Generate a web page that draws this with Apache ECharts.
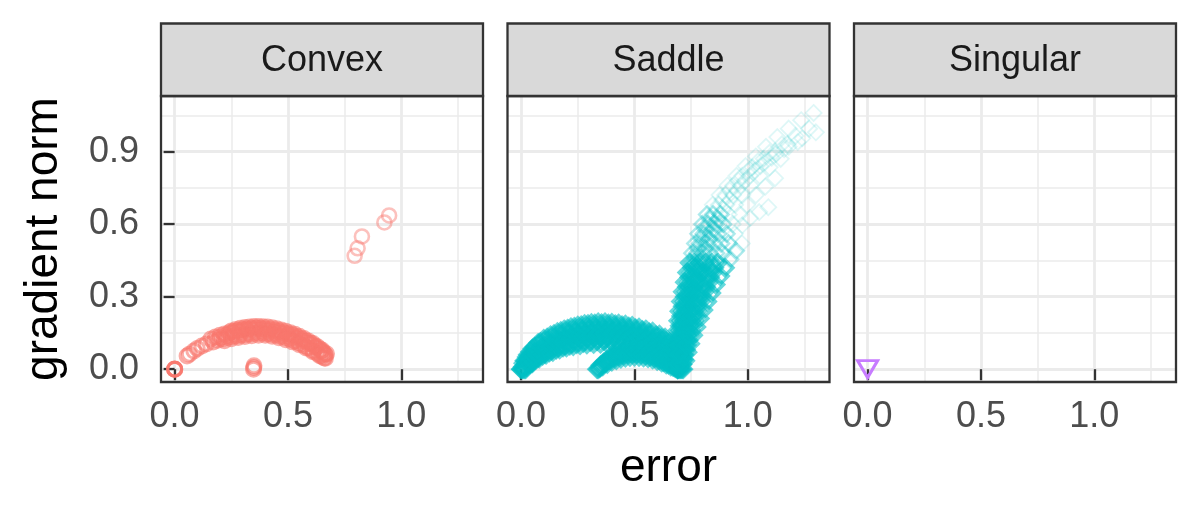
<!DOCTYPE html>
<html>
<head>
<meta charset="utf-8">
<script src="https://cdn.jsdelivr.net/npm/echarts@6/dist/echarts.min.js"></script>
<style>
html,body{margin:0;padding:0;background:#fff;}
#chart{width:1200px;height:510px;}
</style>
</head>
<body>
<div id="chart"></div>
<script>
// ---------- data ----------
const panels = ['Convex', 'Saddle', 'Singular'];
const xTicks = [0, 0.5, 1.0];
const xTickLabels = ['0.0', '0.5', '1.0'];
const xMinorTicks = [0.25, 0.75, 1.25];
const yTicks = [0, 0.3, 0.6, 0.9];
const yTickLabels = ['0.0', '0.3', '0.6', '0.9'];
const yMinorTicks = [0.15, 0.45, 0.75, 1.05];
const xTitle = 'error';
const yTitle = 'gradient norm';

// Convex panel (error, gradient norm)
const convexStart = [[0,0],[0,0],[0,0.001],[0.001,0],[0.055,0.055],[0.065,0.062],[0.085,0.075],[0.1,0.086],[0.12,0.096],[0.14,0.104]];
const convexBand = [
  [0.16,0.125],[0.18,0.133],[0.2,0.14],[0.22,0.146],[0.24,0.151],[0.26,0.156],[0.28,0.16],[0.3,0.163],[0.32,0.166],[0.34,0.168],[0.36,0.169],[0.38,0.168],[0.4,0.166],[0.42,0.163],[0.44,0.16],[0.46,0.156],[0.48,0.151],[0.5,0.146],[0.52,0.14],[0.54,0.133],[0.56,0.125],[0.58,0.116],[0.6,0.107],[0.62,0.096],[0.64,0.083],[0.655,0.071],[0.665,0.06],
  [0.17,0.112],[0.19,0.12],[0.21,0.126],[0.23,0.131],[0.25,0.135],[0.27,0.138],[0.29,0.141],[0.31,0.144],[0.33,0.147],[0.35,0.149],[0.37,0.15],[0.39,0.15],[0.41,0.148],[0.43,0.145],[0.45,0.141],[0.47,0.136],[0.49,0.131],[0.51,0.125],[0.53,0.117],[0.55,0.108],[0.57,0.098],[0.59,0.088],[0.61,0.077],[0.63,0.065],[0.65,0.053],[0.665,0.045],
  [0.2,0.13],[0.23,0.14],[0.26,0.148],[0.29,0.155],[0.32,0.16],[0.35,0.162],[0.38,0.161],[0.41,0.158],[0.44,0.153],[0.47,0.146],[0.5,0.138],[0.53,0.129],[0.56,0.118],[0.59,0.105],[0.62,0.09],[0.645,0.075],[0.66,0.063],
  [0.25,0.158],[0.27,0.164],[0.29,0.169],[0.31,0.172],[0.33,0.175],[0.35,0.177],[0.37,0.177],[0.39,0.176],[0.41,0.174],[0.43,0.171],[0.45,0.167],[0.47,0.162],[0.49,0.157],[0.51,0.151],[0.53,0.144],[0.55,0.136],[0.57,0.127],[0.59,0.117],[0.61,0.106],[0.63,0.093],[0.65,0.079],[0.67,0.064],
  [0.22,0.118],[0.25,0.126],[0.28,0.131],[0.31,0.135],[0.34,0.138],[0.37,0.14],[0.4,0.14],[0.43,0.136],[0.46,0.13],[0.49,0.122],[0.52,0.113],[0.55,0.101],[0.58,0.088],[0.61,0.072],[0.64,0.056],[0.66,0.046]
];
const convexLow = [[0.348,0],[0.349,0.007],[0.35,0.014]];
const convexOutliers = [[0.794,0.469],[0.807,0.5],[0.826,0.549],[0.925,0.607],[0.946,0.636]];

// Saddle panel
const saddleArch = [
  [0,0],[0.015,0.035],[0.03,0.06],[0.05,0.085],[0.075,0.108],[0.1,0.125],[0.13,0.14],[0.16,0.153],[0.19,0.164],[0.22,0.173],[0.25,0.18],[0.28,0.186],[0.31,0.19],[0.34,0.193],[0.37,0.193],[0.4,0.191],[0.43,0.188],[0.46,0.184],[0.49,0.179],[0.52,0.172],[0.55,0.164],[0.58,0.155],[0.61,0.143],[0.635,0.13],[0.655,0.112],[0.67,0.09],[0.68,0.065],[0.688,0.035],[0.692,0.01],
  [0,0],[0.02,0.035],[0.04,0.058],[0.065,0.08],[0.09,0.1],[0.12,0.117],[0.15,0.131],[0.18,0.143],[0.21,0.152],[0.24,0.159],[0.27,0.165],[0.3,0.17],[0.33,0.173],[0.36,0.174],[0.39,0.173],[0.42,0.171],[0.45,0.167],[0.48,0.162],[0.51,0.156],[0.54,0.148],[0.57,0.139],[0.6,0.128],[0.625,0.115],[0.645,0.1],[0.662,0.08],[0.675,0.058],[0.685,0.032],[0.69,0.008],
  [0.005,0],[0.025,0.03],[0.045,0.05],[0.07,0.07],[0.1,0.088],[0.13,0.103],[0.16,0.116],[0.19,0.127],[0.22,0.136],[0.25,0.143],[0.28,0.148],[0.31,0.152],[0.34,0.155],[0.37,0.156],[0.4,0.155],[0.43,0.153],[0.46,0.149],[0.49,0.144],[0.52,0.138],[0.55,0.13],[0.58,0.12],[0.61,0.108],[0.635,0.094],[0.655,0.077],[0.67,0.058],[0.682,0.035],[0.69,0.012],
  [0.01,0],[0.03,0.025],[0.055,0.045],[0.08,0.062],[0.11,0.078],[0.14,0.091],[0.17,0.102],[0.2,0.111],[0.23,0.119],[0.26,0.125],[0.29,0.13],[0.32,0.134],[0.35,0.136],[0.38,0.137],[0.41,0.136],[0.44,0.133],[0.47,0.129],[0.5,0.123],[0.53,0.116],[0.56,0.107],[0.59,0.096],[0.62,0.083],[0.645,0.068],[0.665,0.05],[0.68,0.03],[0.69,0.008],
  [0.015,0],[0.04,0.022],[0.065,0.04],[0.095,0.056],[0.125,0.07],[0.155,0.081],[0.185,0.09],[0.215,0.098],[0.245,0.104],[0.275,0.109],[0.305,0.113],[0.335,0.116],[0.365,0.117],[0.395,0.116],[0.425,0.114],[0.455,0.11],[0.485,0.105],[0.515,0.098],[0.545,0.09],[0.575,0.08],[0.605,0.068],[0.635,0.054],[0.66,0.038],[0.68,0.02],[0.692,0.004],
  [0.02,0],[0.05,0.025],[0.08,0.045],[0.11,0.06],[0.14,0.072],[0.17,0.082],[0.2,0.09],[0.23,0.096],[0.26,0.1],[0.29,0.103],[0.32,0.105],[0.35,0.106],[0.38,0.106],[0.41,0.104],[0.44,0.1],[0.47,0.095],[0.5,0.089],[0.53,0.082],[0.56,0.073],[0.59,0.063],[0.62,0.051],[0.65,0.036],[0.675,0.02],[0.69,0.004],
  [0.008,0.01],[0.035,0.045],[0.06,0.07],[0.09,0.092],[0.12,0.11],[0.15,0.124],[0.18,0.136],[0.21,0.146],[0.24,0.153],[0.27,0.159],[0.3,0.163],[0.33,0.166],[0.36,0.166],[0.39,0.165],[0.42,0.162],[0.45,0.158],[0.48,0.152],[0.51,0.145],[0.54,0.137],[0.57,0.127],[0.6,0.115],[0.63,0.1],[0.655,0.085],[0.675,0.065],
  [0.01,0.025],[0.025,0.05],[0.04,0.072],[0.06,0.092],[0.085,0.112],[0.115,0.13],[0.145,0.145],[0.175,0.157],[0.205,0.167],[0.235,0.175],[0.265,0.181],[0.295,0.186],[0.325,0.188],[0.355,0.189],[0.385,0.188],[0.415,0.185],[0.445,0.181],[0.475,0.176],[0.505,0.169],[0.535,0.161],[0.565,0.152],[0.595,0.14],[0.62,0.128],[0.64,0.115],[0.66,0.097],
  [0.025,0.01],[0.05,0.03],[0.075,0.048],[0.105,0.064],[0.135,0.078],[0.165,0.09],[0.195,0.099],[0.225,0.107],[0.255,0.113],[0.285,0.118],[0.315,0.122],[0.345,0.125],[0.375,0.126],[0.405,0.125],[0.435,0.122],[0.465,0.118],[0.495,0.112],[0.525,0.105],[0.555,0.096],[0.585,0.086],[0.615,0.074],[0.64,0.06],[0.66,0.045],[0.678,0.028],
  [0.02,0.02],[0.045,0.04],[0.07,0.06],[0.1,0.078],[0.13,0.094],[0.16,0.108],[0.19,0.119],[0.22,0.128],[0.25,0.135],[0.28,0.14],[0.31,0.144],[0.34,0.146],[0.37,0.147],[0.4,0.146],[0.43,0.144],[0.46,0.14],[0.49,0.135],[0.52,0.128],[0.55,0.12],[0.58,0.11],[0.61,0.098],[0.64,0.083],[0.66,0.068],[0.676,0.048]
];
const saddleInnerArch = [
  [0.335,0],[0.35,0.016],[0.365,0.028],[0.38,0.038],[0.4,0.048],[0.42,0.056],[0.44,0.062],[0.46,0.066],[0.48,0.069],[0.5,0.07],[0.52,0.069],[0.54,0.067],[0.56,0.063],[0.58,0.058],[0.6,0.051],[0.62,0.042],[0.64,0.032],[0.66,0.021],[0.675,0.011],[0.69,0],
  [0.34,0],[0.36,0.012],[0.38,0.022],[0.4,0.031],[0.42,0.038],[0.44,0.044],[0.46,0.048],[0.48,0.051],[0.5,0.052],[0.52,0.051],[0.54,0.049],[0.56,0.046],[0.58,0.041],[0.6,0.035],[0.62,0.028],[0.64,0.02],[0.66,0.012],[0.68,0.004],
  [0.345,0.005],[0.36,0.022],[0.375,0.035],[0.39,0.046],[0.41,0.057],[0.43,0.066],[0.45,0.072],[0.47,0.077],[0.49,0.08],[0.51,0.081],[0.53,0.08],[0.55,0.077],[0.57,0.072],[0.59,0.066],[0.61,0.058],[0.63,0.048],[0.65,0.036],[0.67,0.022],[0.685,0.01],
  [0.35,0.008],[0.37,0.025],[0.39,0.038],[0.41,0.048],[0.43,0.055],[0.45,0.06],[0.47,0.063],[0.49,0.064],[0.51,0.064],[0.53,0.062],[0.55,0.058],[0.57,0.053],[0.59,0.046],[0.61,0.038],[0.63,0.029],[0.65,0.019],[0.67,0.01]
];
const saddleRiseCore = [
  [0.69,0],[0.688,0.04],[0.688,0.08],[0.689,0.12],[0.69,0.16],[0.693,0.2],[0.698,0.24],[0.705,0.28],[0.713,0.32],[0.722,0.36],[0.732,0.4],[0.743,0.44],
  [0.69,0],[0.692,0.04],[0.694,0.08],[0.697,0.12],[0.701,0.16],[0.706,0.2],[0.713,0.24],[0.721,0.28],[0.73,0.32],[0.74,0.36],[0.751,0.4],[0.763,0.44],
  [0.695,0],[0.698,0.04],[0.702,0.08],[0.707,0.12],[0.713,0.16],[0.72,0.2],[0.729,0.24],[0.739,0.28],[0.75,0.32],[0.762,0.36],[0.775,0.4],[0.789,0.44],
  [0.7,0],[0.704,0.04],[0.709,0.08],[0.716,0.12],[0.724,0.16],[0.733,0.2],[0.744,0.24],[0.756,0.28],[0.769,0.32],[0.783,0.36],[0.798,0.4],[0.814,0.44],
  [0.705,0],[0.711,0.04],[0.718,0.08],[0.727,0.12],[0.737,0.16],[0.748,0.2],[0.76,0.24],[0.774,0.28],[0.789,0.32],[0.805,0.36],[0.822,0.4],[0.84,0.44],
  [0.71,0],[0.718,0.04],[0.727,0.08],[0.738,0.12],[0.75,0.16],[0.763,0.2],[0.777,0.24],[0.792,0.28],[0.809,0.32],[0.827,0.36],[0.846,0.4],[0.867,0.44],
  [0.715,0],[0.724,0.035],[0.734,0.07],[0.746,0.105],[0.759,0.14],[0.773,0.175],[0.788,0.21],[0.804,0.245],[0.821,0.28],[0.839,0.315],[0.858,0.35],[0.878,0.385],[0.899,0.42],
  [0.69,0.02],[0.691,0.06],[0.693,0.1],[0.696,0.14],[0.7,0.18],[0.706,0.22],[0.713,0.26],[0.722,0.3],[0.731,0.34],[0.742,0.38],[0.754,0.42],
  [0.7,0.02],[0.703,0.06],[0.707,0.1],[0.712,0.14],[0.718,0.18],[0.726,0.22],[0.735,0.26],[0.745,0.3],[0.757,0.34],[0.769,0.38],[0.782,0.42],
  [0.708,0.02],[0.714,0.06],[0.722,0.1],[0.731,0.14],[0.742,0.18],[0.754,0.22],[0.767,0.26],[0.781,0.3],[0.796,0.34],[0.812,0.38],[0.829,0.42],
  [0.695,0.02],[0.697,0.06],[0.7,0.1],[0.704,0.14],[0.709,0.18],[0.716,0.22],[0.724,0.26],[0.733,0.3],[0.744,0.34],[0.756,0.38],[0.768,0.42],
  [0.712,0.02],[0.72,0.06],[0.73,0.1],[0.741,0.14],[0.753,0.18],[0.767,0.22],[0.782,0.26],[0.798,0.3],[0.815,0.34],[0.833,0.38],[0.852,0.42]
];
const saddleRiseMid = [
  [0.755,0.48],[0.768,0.52],[0.782,0.56],[0.8,0.6],[0.82,0.64],
  [0.776,0.48],[0.79,0.52],[0.806,0.56],[0.825,0.6],[0.847,0.64],
  [0.804,0.48],[0.82,0.52],[0.838,0.56],[0.858,0.6],[0.88,0.64],
  [0.831,0.48],[0.849,0.52],[0.869,0.56],[0.891,0.6],
  [0.86,0.48],[0.882,0.52],[0.906,0.56],
  [0.89,0.48],[0.915,0.52],
  [0.922,0.455],[0.947,0.49],
  [0.766,0.46],[0.78,0.5],[0.795,0.54],[0.812,0.58],[0.833,0.62],
  [0.796,0.46],[0.812,0.5],[0.829,0.54],[0.848,0.58],[0.869,0.62]
];
const saddleRiseTail = [
  [0.845,0.68],[0.875,0.72],[0.91,0.76],[0.95,0.8],[0.99,0.84],[1.035,0.88],[1.08,0.92],[1.13,0.96],[1.18,0.995],[1.235,1.03],[1.29,1.06],
  [0.872,0.68],[0.9,0.72],[0.935,0.76],[0.975,0.8],[1.02,0.835],[1.07,0.87],[1.12,0.9],[1.175,0.93],[1.24,0.955],[1.3,0.98],
  [0.905,0.68],[0.935,0.72],[0.97,0.76],[1.01,0.8],[1.055,0.84],[1.105,0.875],[1.16,0.91],[1.22,0.94],
  [0.916,0.64],[0.944,0.68],[0.976,0.72],[1.012,0.76],[1.052,0.8],[1.096,0.835],[1.145,0.87],
  [0.933,0.6],[0.963,0.64],[0.997,0.68],[1.035,0.72],[1.077,0.755],[1.12,0.79],
  [0.943,0.56],[0.975,0.595],[1.01,0.625],[1.05,0.65],[1.09,0.67],
  [0.974,0.52],
  [0.858,0.66],[0.887,0.7],[0.92,0.74],[0.958,0.78],[1.0,0.82],[1.045,0.86],[1.095,0.895],[1.15,0.93],[1.21,0.965],[1.27,0.995],
  [0.893,0.66],[0.92,0.7],[0.952,0.74],[0.988,0.78],[1.03,0.82],[1.075,0.855],[1.125,0.89],[1.18,0.92]
];

// Singular panel
const singularPoints = [[0,0]];

// ---------- layout / styles ----------
const FONT = 'Liberation Sans, Arial, Helvetica, sans-serif';
const X_MIN = -0.06, X_MAX = 1.36, Y_MIN = -0.053, Y_MAX = 1.13;
const PANEL_LEFT = [161, 507.5, 854];
const PANEL_W = 322, PANEL_TOP = 96, PANEL_H = 286;
const STRIP_TOP = 23.5, STRIP_H = 72.5;
const BORDER = '#333333', LW = 2.3;

const chart = echarts.init(document.getElementById('chart'), null, {renderer: 'canvas'});

const grids = PANEL_LEFT.map(l => ({left: l, top: PANEL_TOP, width: PANEL_W, height: PANEL_H, containLabel: false}));

const xAxes = [], yAxes = [];
panels.forEach((p, i) => {
  xAxes.push({
    type: 'value', gridIndex: i, min: X_MIN, max: X_MAX,
    axisLine: {show: false},
    axisTick: {show: true, length: 11, customValues: xTicks, lineStyle: {color: BORDER, width: LW}},
    axisLabel: {show: true, customValues: xTicks, margin: 17, fontSize: 36, color: '#4D4D4D', fontFamily: FONT,
      formatter: v => xTickLabels[xTicks.indexOf(v)] !== undefined ? xTickLabels[xTicks.indexOf(v)] : ''},
    splitLine: {show: true, lineStyle: {color: '#EBEBEB', width: 2.8}}
  });
  yAxes.push({
    type: 'value', gridIndex: i, min: Y_MIN, max: Y_MAX,
    axisLine: {show: false},
    axisTick: {show: i === 0, length: 11, customValues: yTicks, lineStyle: {color: BORDER, width: LW}},
    axisLabel: {show: i === 0, customValues: yTicks, margin: 22, fontSize: 36, color: '#4D4D4D', fontFamily: FONT,
      formatter: v => yTickLabels[yTicks.indexOf(v)] !== undefined ? yTickLabels[yTicks.indexOf(v)] : ''},
    splitLine: {show: true, lineStyle: {color: '#EBEBEB', width: 2.8}}
  });
});
panels.forEach((p, i) => {
  xAxes.push({
    type: 'value', gridIndex: i, min: X_MIN, max: X_MAX, position: 'bottom',
    axisLine: {show: false}, axisLabel: {show: false},
    axisTick: {show: false, customValues: xMinorTicks},
    splitLine: {show: true, lineStyle: {color: '#EBEBEB', width: 1.5}}
  });
  yAxes.push({
    type: 'value', gridIndex: i, min: Y_MIN, max: Y_MAX, position: 'left',
    axisLine: {show: false}, axisLabel: {show: false},
    axisTick: {show: false, customValues: yMinorTicks},
    splitLine: {show: true, lineStyle: {color: '#EBEBEB', width: 1.5}}
  });
});

function hollow(color, bw, op) {
  return {color: 'rgba(0,0,0,0)', borderColor: color, borderWidth: bw, opacity: op};
}

const series = [
  {type: 'scatter', xAxisIndex: 0, yAxisIndex: 0, symbol: 'circle', symbolSize: 14,
   data: convexStart.concat(convexBand, convexLow),
   itemStyle: hollow('#F8766D', 3, 0.6), z: 3},
  {type: 'scatter', xAxisIndex: 0, yAxisIndex: 0, symbol: 'circle', symbolSize: 14,
   data: convexOutliers,
   itemStyle: hollow('#F8766D', 2.6, 0.45), z: 3},
  {type: 'scatter', xAxisIndex: 1, yAxisIndex: 1, symbol: 'diamond', symbolSize: 16,
   data: saddleArch.concat(saddleInnerArch, saddleRiseCore),
   itemStyle: hollow('#00BFC4', 3.4, 0.6), z: 3},
  {type: 'scatter', xAxisIndex: 1, yAxisIndex: 1, symbol: 'diamond', symbolSize: 16,
   data: saddleRiseMid,
   itemStyle: hollow('#00BFC4', 2.4, 0.32), z: 3},
  {type: 'scatter', xAxisIndex: 1, yAxisIndex: 1, symbol: 'diamond', symbolSize: 16,
   data: saddleRiseTail,
   itemStyle: hollow('#00BFC4', 1.8, 0.13), z: 3},
  {type: 'scatter', xAxisIndex: 2, yAxisIndex: 2, symbol: 'triangle', symbolRotate: 180, symbolSize: [20, 17],
   data: singularPoints,
   itemStyle: hollow('#C77CFF', 3, 1), z: 3}
];

const graphic = [];
PANEL_LEFT.forEach((l, i) => {
  graphic.push({type: 'rect', z: 100, shape: {x: l, y: PANEL_TOP, width: PANEL_W, height: PANEL_H},
    style: {fill: 'none', stroke: BORDER, lineWidth: LW}});
  graphic.push({type: 'rect', z: 100, shape: {x: l, y: STRIP_TOP, width: PANEL_W, height: STRIP_H},
    style: {fill: '#D9D9D9', stroke: BORDER, lineWidth: LW}});
  graphic.push({type: 'text', z: 101, x: l + PANEL_W / 2, y: STRIP_TOP + STRIP_H / 2 + 1,
    style: {text: panels[i], fill: '#1A1A1A', font: '36px ' + FONT, align: 'center', verticalAlign: 'middle'}});
});
graphic.push({type: 'text', z: 101, x: (PANEL_LEFT[0] + PANEL_LEFT[2] + PANEL_W) / 2, y: 468,
  style: {text: xTitle, fill: '#000', font: '46px ' + FONT, align: 'center', verticalAlign: 'middle'}});
graphic.push({type: 'text', z: 101, x: 44, y: PANEL_TOP + PANEL_H / 2, rotation: Math.PI / 2,
  style: {text: yTitle, fill: '#000', font: '46px ' + FONT, align: 'center', verticalAlign: 'middle'}});

chart.setOption({
  animation: false,
  backgroundColor: '#fff',
  grid: grids,
  xAxis: xAxes,
  yAxis: yAxes,
  series: series,
  graphic: graphic
});
</script>
</body>
</html>
